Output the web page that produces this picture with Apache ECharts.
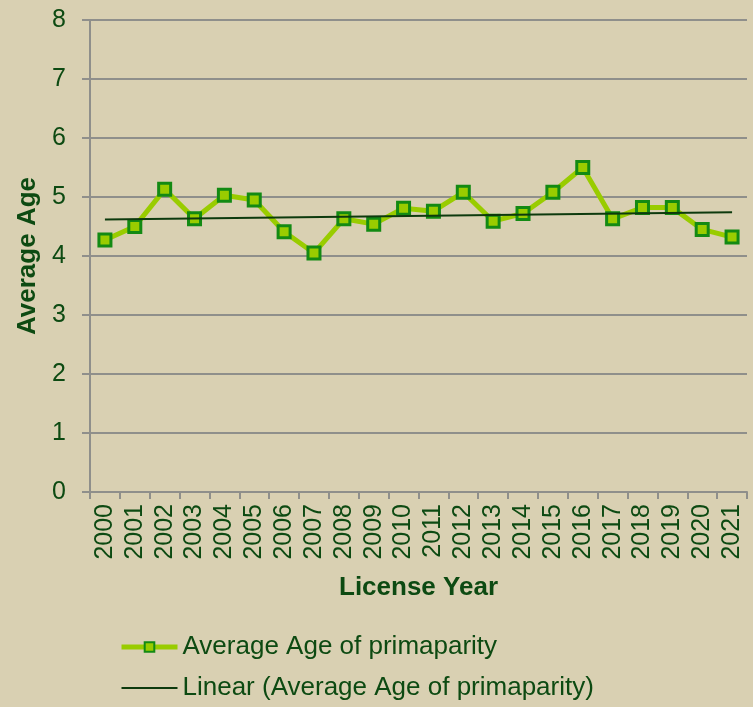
<!DOCTYPE html>
<html>
<head>
<meta charset="utf-8">
<script src="https://cdn.jsdelivr.net/npm/echarts@6/dist/echarts.min.js"></script>
<style>
  html, body { margin: 0; padding: 0; background: #d9d0b2; }
  #chart { width: 753px; height: 707px; }
</style>
</head>
<body>
<div id="chart"></div>
<script>
// data
var years = ['2000','2001','2002','2003','2004','2005','2006','2007','2008','2009','2010',
             '2011','2012','2013','2014','2015','2016','2017','2018','2019','2020','2021'];
var avgAge = [4.27, 4.50, 5.13, 4.63, 5.03, 4.95, 4.41, 4.05, 4.63, 4.54, 4.81,
              4.76, 5.08, 4.59, 4.72, 5.08, 5.50, 4.63, 4.82, 4.82, 4.45, 4.32];
// trend line end points (first and last year)
var trendEnds = [4.62, 4.74];

var textColor = '#0d4a12';
var chart = echarts.init(document.getElementById('chart'));

var option = {
  backgroundColor: '#d9d0b2',
  textStyle: { fontFamily: 'Liberation Sans, Arial, sans-serif' },
  grid: { left: 90, right: 6, top: 20, bottom: 215 },
  legend: {
    orient: 'vertical',
    left: 119,
    top: 634,
    padding: 0,
    itemGap: 15,
    itemWidth: 56,
    itemHeight: 12,
    textStyle: { color: textColor, fontSize: 26 },
    data: [
      { name: 'Average Age of primaparity', lineStyle: { width: 5, color: '#99cc00' } },
      { name: 'Linear (Average Age of primaparity)', icon: 'path://M0,0 H56 V2 H0 Z', itemStyle: { color: '#0d3a0d' } }
    ]
  },
  xAxis: {
    type: 'category',
    data: years,
    boundaryGap: true,
    name: 'License Year',
    nameLocation: 'middle',
    nameGap: 83,
    nameTextStyle: { color: textColor, fontSize: 26, fontWeight: 'bold' },
    axisLine: { lineStyle: { color: '#8f8f8b', width: 2 } },
    axisTick: { show: true, length: 7, lineStyle: { color: '#8f8f8b', width: 2 } },
    axisLabel: { rotate: 90, color: textColor, fontSize: 25, margin: 12, interval: 0 },
    splitLine: { show: false }
  },
  yAxis: {
    type: 'value',
    min: 0,
    max: 8,
    interval: 1,
    name: 'Average Age',
    nameLocation: 'middle',
    nameGap: 48,
    nameTextStyle: { color: textColor, fontSize: 26, fontWeight: 'bold' },
    axisLine: { show: true, lineStyle: { color: '#8f8f8b', width: 2 } },
    axisTick: { show: true, length: 8, lineStyle: { color: '#8f8f8b', width: 2 } },
    axisLabel: { color: textColor, fontSize: 25, margin: 24 },
    splitLine: { lineStyle: { color: '#8f8f8b', width: 2 } }
  },
  series: [
    {
      name: 'Average Age of primaparity',
      type: 'line',
      data: avgAge,
      symbol: 'rect',
      symbolSize: 12,
      z: 3,
      lineStyle: { color: '#99cc00', width: 5 },
      itemStyle: { color: '#99cc00', borderColor: '#138a13', borderWidth: 3 }
    },
    {
      name: 'Linear (Average Age of primaparity)',
      type: 'line',
      data: [[0, trendEnds[0]], [years.length - 1, trendEnds[1]]],
      symbol: 'none',
      z: 4,
      lineStyle: { color: '#0d3a0d', width: 2 },
      itemStyle: { color: '#0d3a0d' }
    }
  ]
};

chart.setOption(option);
</script>
</body>
</html>
